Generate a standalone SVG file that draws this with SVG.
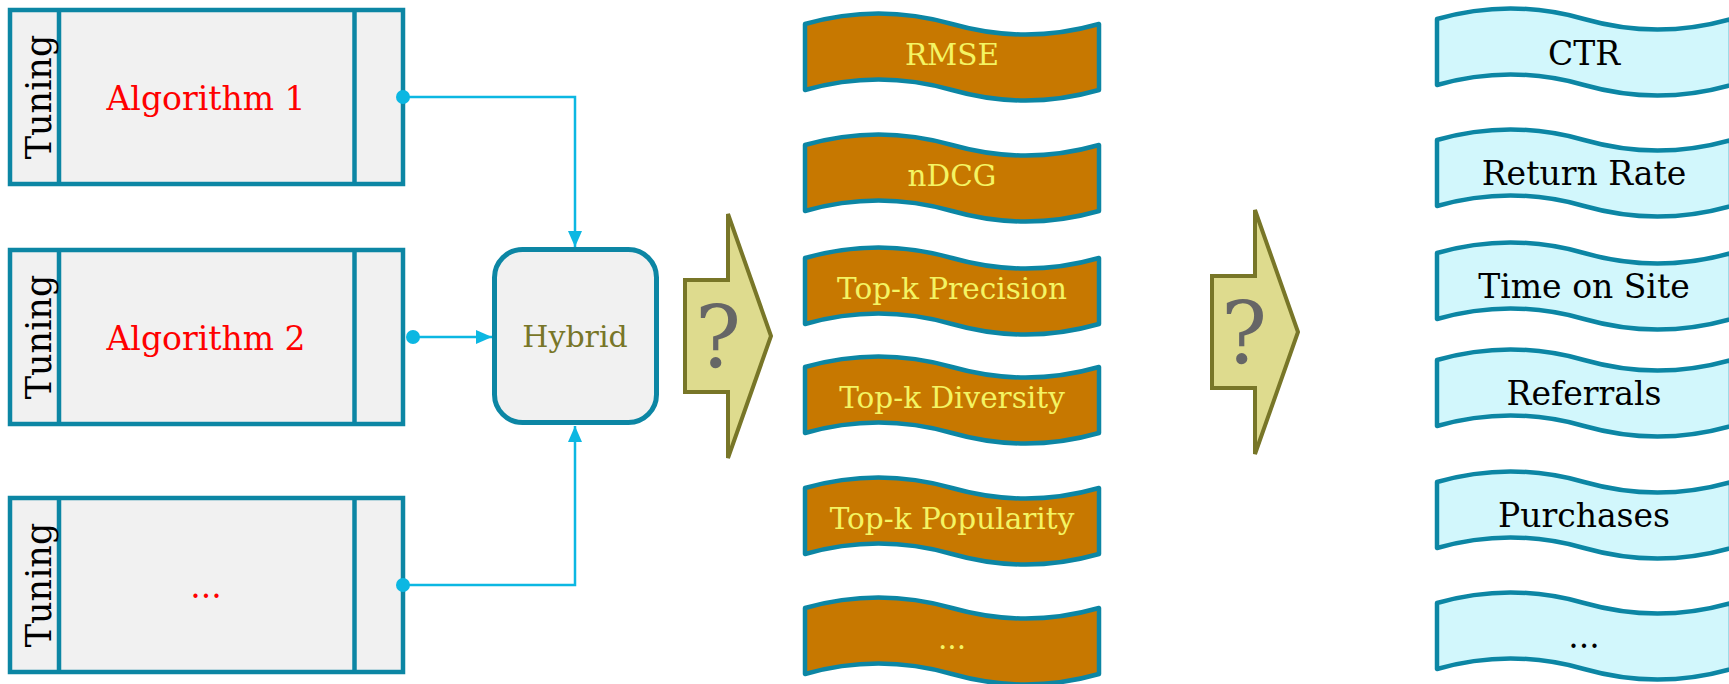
<svg xmlns="http://www.w3.org/2000/svg" width="1729" height="684" viewBox="0 0 1729 684">
<style>
.box{fill:#f1f1f1;stroke:#0c86a4;stroke-width:4.5}
.div{stroke:#0c86a4;stroke-width:4.5}
.hy{fill:#f1f1f1;stroke:#0c86a4;stroke-width:5}
.t{font-family:"DejaVu Serif","Liberation Serif",serif}
.tun{font-size:35px;fill:#000}
.alg{font-size:33px;fill:#ff0000}
.tapeA{fill:#c77800;stroke:#0c86a4;stroke-width:4.5;stroke-linejoin:round}
.tapeB{fill:#d2f7fc;stroke:#0c86a4;stroke-width:4.5;stroke-linejoin:round}
.ta{font-size:29.5px;fill:#f4f463}
.tb{font-size:33px;fill:#000}
.q{fill:#dedb8e;stroke:#787628;stroke-width:4}
.qt{font-size:86px;fill:#666666}
.con{fill:none;stroke:#0cb7e2;stroke-width:2.5}
.dot{fill:#0cb7e2}
</style>
<defs>
<marker id="ah" viewBox="0 0 16 16" refX="16" refY="8" markerWidth="16" markerHeight="16" markerUnits="userSpaceOnUse" orient="auto">
<path d="M0,1 L16,8 L0,15 Z" fill="#0cb7e2"/>
</marker>
<path id="tapeShape" d="M0,0 Q73.5,-21 147,0 Q220.5,21 294,0 L294,66 Q220.5,87 147,66 Q73.5,45 0,66 Z"/>
</defs>

<g id="algo1">
<rect class="box" x="10" y="10" width="393" height="174"/>
<line class="div" x1="59" y1="10" x2="59" y2="184"/>
<line class="div" x1="354.5" y1="10" x2="354.5" y2="184"/>
<text class="t tun" transform="translate(51,97) rotate(-90)" text-anchor="middle">Tuning</text>
<text class="t alg" x="206" y="110" text-anchor="middle">Algorithm 1</text>
</g>
<g id="algo2">
<rect class="box" x="10" y="250" width="393" height="174"/>
<line class="div" x1="59" y1="250" x2="59" y2="424"/>
<line class="div" x1="354.5" y1="250" x2="354.5" y2="424"/>
<text class="t tun" transform="translate(51,337) rotate(-90)" text-anchor="middle">Tuning</text>
<text class="t alg" x="206" y="350" text-anchor="middle">Algorithm 2</text>
</g>
<g id="algo3">
<rect class="box" x="10" y="498" width="393" height="174"/>
<line class="div" x1="59" y1="498" x2="59" y2="672"/>
<line class="div" x1="354.5" y1="498" x2="354.5" y2="672"/>
<text class="t tun" transform="translate(51,585) rotate(-90)" text-anchor="middle">Tuning</text>
<text class="t alg" x="206" y="598" text-anchor="middle">...</text>
</g>

<g id="hybrid">
<rect class="hy" x="494.5" y="249.5" width="162" height="173" rx="28" ry="28"/>
<text class="t" x="575" y="347" text-anchor="middle" font-size="30" fill="#787628">Hybrid</text>
</g>

<g id="connectors">
<polyline class="con" points="403,97 575,97 575,247" marker-end="url(#ah)"/>
<circle class="dot" cx="403" cy="97" r="7"/>
<polyline class="con" points="413,337 492,337" marker-end="url(#ah)"/>
<circle class="dot" cx="413" cy="337" r="7"/>
<polyline class="con" points="403,585 575,585 575,426" marker-end="url(#ah)"/>
<circle class="dot" cx="403" cy="585" r="7"/>
</g>

<g id="q1">
<path class="q" d="M685,280 L728,280 L728,214 L771,336 L728,458 L728,392 L685,392 Z"/>
<text class="t qt" x="718" y="367" text-anchor="middle">?</text>
</g>
<g id="q2">
<path class="q" d="M1212,276 L1255,276 L1255,210 L1298,332 L1255,454 L1255,388 L1212,388 Z"/>
<text class="t qt" x="1244" y="363" text-anchor="middle">?</text>
</g>

<g id="m-rmse"><use href="#tapeShape" class="tapeA" transform="translate(805,24)"/><text class="t ta" x="952" y="65" text-anchor="middle">RMSE</text></g>
<g id="m-ndcg"><use href="#tapeShape" class="tapeA" transform="translate(805,145)"/><text class="t ta" x="952" y="186" text-anchor="middle">nDCG</text></g>
<g id="m-prec"><use href="#tapeShape" class="tapeA" transform="translate(805,258)"/><text class="t ta" x="952" y="299" text-anchor="middle">Top-k Precision</text></g>
<g id="m-div"><use href="#tapeShape" class="tapeA" transform="translate(805,367)"/><text class="t ta" x="952" y="408" text-anchor="middle">Top-k Diversity</text></g>
<g id="m-pop"><use href="#tapeShape" class="tapeA" transform="translate(805,488)"/><text class="t ta" x="952" y="529" text-anchor="middle">Top-k Popularity</text></g>
<g id="m-more"><use href="#tapeShape" class="tapeA" transform="translate(805,608)"/><text class="t ta" x="952" y="649" text-anchor="middle">...</text></g>

<g id="b-ctr"><use href="#tapeShape" class="tapeB" transform="translate(1437,19)"/><text class="t tb" x="1584" y="65" text-anchor="middle">CTR</text></g>
<g id="b-ret"><use href="#tapeShape" class="tapeB" transform="translate(1437,140)"/><text class="t tb" x="1584" y="185" text-anchor="middle">Return Rate</text></g>
<g id="b-time"><use href="#tapeShape" class="tapeB" transform="translate(1437,253)"/><text class="t tb" x="1584" y="298" text-anchor="middle">Time on Site</text></g>
<g id="b-ref"><use href="#tapeShape" class="tapeB" transform="translate(1437,360)"/><text class="t tb" x="1584" y="405" text-anchor="middle">Referrals</text></g>
<g id="b-pur"><use href="#tapeShape" class="tapeB" transform="translate(1437,482)"/><text class="t tb" x="1584" y="527" text-anchor="middle">Purchases</text></g>
<g id="b-more"><use href="#tapeShape" class="tapeB" transform="translate(1437,603)"/><text class="t tb" x="1584" y="648" text-anchor="middle">...</text></g>
</svg>
